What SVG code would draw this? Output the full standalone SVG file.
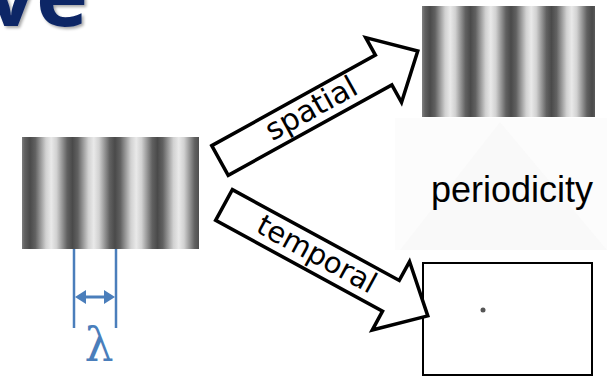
<svg xmlns="http://www.w3.org/2000/svg" width="607" height="377" viewBox="0 0 607 377">
  <style>
    .arrow { fill: #ffffff; stroke: #000000; stroke-width: 3.5; stroke-linejoin: miter; }
    .alabel { font-family: "DejaVu Sans", sans-serif; fill: #000000; text-anchor: middle; }
    .blue { stroke: #4a7ebb; }
  </style>
  <defs>
    <linearGradient id="gradL" gradientUnits="userSpaceOnUse" x1="30" y1="0" x2="72.5" y2="0" spreadMethod="repeat">
      <stop offset="0" stop-color="#4a4a4a"/>
      <stop offset="0.125" stop-color="#616161"/>
      <stop offset="0.25" stop-color="#999999"/>
      <stop offset="0.375" stop-color="#d1d1d1"/>
      <stop offset="0.5" stop-color="#e9e9e9"/>
      <stop offset="0.625" stop-color="#d1d1d1"/>
      <stop offset="0.75" stop-color="#999999"/>
      <stop offset="0.875" stop-color="#616161"/>
      <stop offset="1" stop-color="#4a4a4a"/>
    </linearGradient>
    <linearGradient id="gradR" href="#gradL" xlink:href="#gradL" xmlns:xlink="http://www.w3.org/1999/xlink" x1="430" x2="470.5"/>
    <filter id="shadow" x="-20%" y="-20%" width="140%" height="140%">
      <feGaussianBlur in="SourceAlpha" stdDeviation="1.5"/>
      <feOffset dx="2" dy="2" result="b"/>
      <feComponentTransfer><feFuncA type="linear" slope="0.35"/></feComponentTransfer>
      <feMerge><feMergeNode/><feMergeNode in="SourceGraphic"/></feMerge>
    </filter>
  </defs>

  <rect x="0" y="0" width="607" height="377" fill="#ffffff"/>

  <g id="backdrop">
    <rect x="395" y="118" width="212" height="132" fill="#fcfcfc"/>
    <polygon points="400,250 500,122 607,250" fill="#f9f9f9"/>
  </g>

  <g id="title">
    <text x="-14" y="26" font-family="'Open Sans', sans-serif" font-weight="700" font-size="88" fill="#0b2566" filter="url(#shadow)">ve</text>
  </g>

  <g id="grating-source">
    <rect x="22" y="137" width="177" height="112" fill="url(#gradL)"/>
  </g>

  <g id="grating-spatial">
    <rect x="422" y="6" width="173" height="111" fill="url(#gradR)"/>
  </g>

  <g id="label-periodicity">
    <text x="431" y="202" font-family="'Liberation Sans', Arial, sans-serif" font-size="36" fill="#000000">periodicity</text>
  </g>

  <g id="box-temporal">
    <rect x="423" y="263" width="169" height="112" fill="#ffffff" stroke="#000000" stroke-width="2"/>
    <circle cx="483" cy="310" r="2.5" fill="#555555"/>
  </g>

  <g id="lambda">
    <line x1="74" y1="249" x2="74" y2="328" class="blue" stroke-width="2.5"/>
    <line x1="116" y1="249" x2="116" y2="328" class="blue" stroke-width="2.5"/>
    <line x1="84" y1="297" x2="106" y2="297" class="blue" stroke-width="3"/>
    <polygon points="75,297 86,290 86,304" fill="#4a7ebb"/>
    <polygon points="115,297 104,290 104,304" fill="#4a7ebb"/>
    <text x="99" y="361" font-family="'DejaVu Serif', serif" font-size="46" fill="#4a7ebb" text-anchor="middle">λ</text>
  </g>

  <g id="connectors">
    <g id="arrow-spatial" transform="translate(220,160.5) rotate(-28.95)">
      <polygon class="arrow" points="0,-17 187,-17 187,-37 226,0 187,37 187,17 0,17"/>
      <text class="alabel" x="105" y="8.5" font-size="30">spatial</text>
    </g>
    <g id="arrow-temporal" transform="translate(224,205) rotate(28.55)">
      <polygon class="arrow" points="0,-17.5 190,-17.5 190,-39 232,0 190,39 190,17.5 0,17.5"/>
      <text class="alabel" x="105" y="8.5" font-size="29">temporal</text>
    </g>
  </g>
</svg>
